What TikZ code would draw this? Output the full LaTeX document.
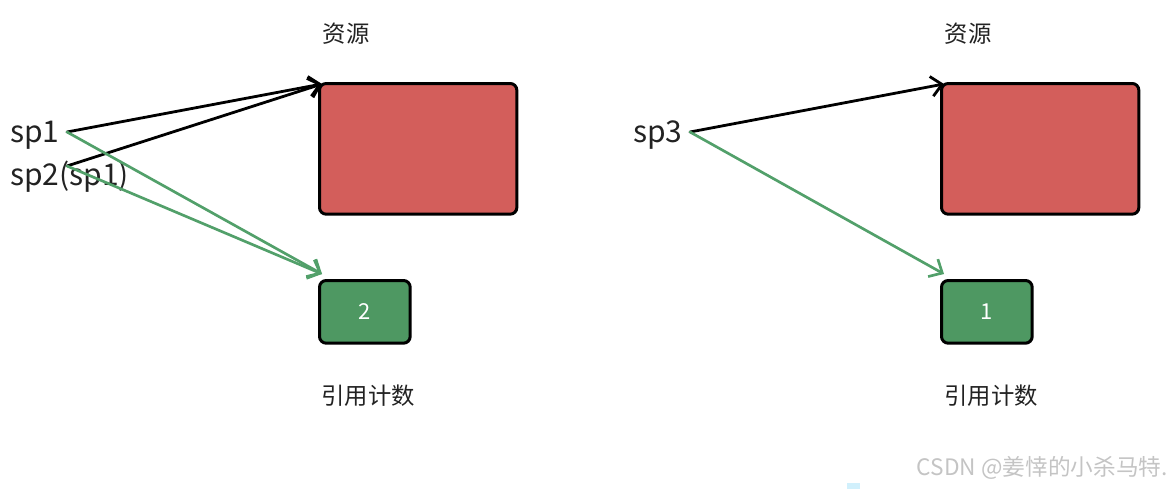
\documentclass[tikz,border=0pt]{standalone}
\usepackage{fontspec}
\setmainfont{Noto Sans CJK SC}
\usetikzlibrary{arrows.meta}
\definecolor{resred}{HTML}{D35E5B}
\definecolor{cntgreen}{HTML}{4E9862}
\definecolor{lgreen}{HTML}{52A06A}
\definecolor{txt}{HTML}{222222}
\definecolor{wm}{HTML}{C4C4C4}
\tikzset{
  resbox/.style={draw=black, line width=2.25pt, fill=resred, rounded corners=5pt,
    minimum width=148pt, minimum height=98pt, inner sep=0pt, anchor=north west},
  cntbox/.style={draw=black, line width=2.25pt, fill=cntgreen, rounded corners=5pt,
    minimum width=68pt, minimum height=47pt, inner sep=0pt, anchor=north west,
    text=white, font=\fontsize{16.5}{19}\selectfont},
  lbl/.style={text=txt, font=\fontsize{17.5}{21}\selectfont, inner sep=0pt},
  ptr/.style={text=txt, font=\fontsize{22.5}{26}\selectfont, inner sep=0pt, anchor=base west},
  blk/.style={draw=black, line width=2.1pt, line cap=round,
    -{Straight Barb[length=8pt,width=15pt,line width=2.1pt]}},
  grn/.style={draw=lgreen, line width=2pt, line cap=round,
    -{Straight Barb[length=8pt,width=15pt,line width=2pt]}},
}
\begin{document}
\begin{tikzpicture}[x=0.75pt,y=-0.75pt]
\useasboundingbox (0,0) rectangle (1170,489);
% left group
\node[resbox] (redL) at (318,82) {};
\node[cntbox] (grnL) at (318,279) {2};
\node[lbl] (resL) at (346,34) {资源};
\node[lbl] (cntL) at (368,396) {引用计数};
\node[ptr] (sp1) at (10,142) {sp1};
\node[ptr] (sp2) at (10,185) {sp2(sp1)};
\coordinate (sp1e) at (67,132);
\coordinate (sp2e) at (67,166);
\coordinate (redLt) at (322,84);
\coordinate (grnLt) at (322,274);
\draw[blk] (sp1e) -- (redLt);
\draw[blk] (sp2e) -- (redLt);
\draw[grn] (sp1e) -- (grnLt);
\draw[grn] (sp2e) -- (grnLt);
% right group
\node[resbox] (redR) at (940,82) {};
\node[cntbox] (grnR) at (940,279) {1};
\node[lbl] (resR) at (968,34) {资源};
\node[lbl] (cntR) at (991,396) {引用计数};
\node[ptr] (sp3) at (633,142) {sp3};
\coordinate (sp3e) at (690,132);
\coordinate (redRt) at (944,84);
\coordinate (grnRt) at (944,274);
\draw[blk] (sp3e) -- (redRt);
\draw[grn] (sp3e) -- (grnRt);
% watermark
\node[text=wm, font=\fontsize{17}{20}\selectfont, inner sep=0pt, anchor=east] (wmk) at (1168,468) {CSDN @姜悻的小杀马特.};
\fill[cyan!18] (847,483) rectangle (860,489);
\end{tikzpicture}
\end{document}
